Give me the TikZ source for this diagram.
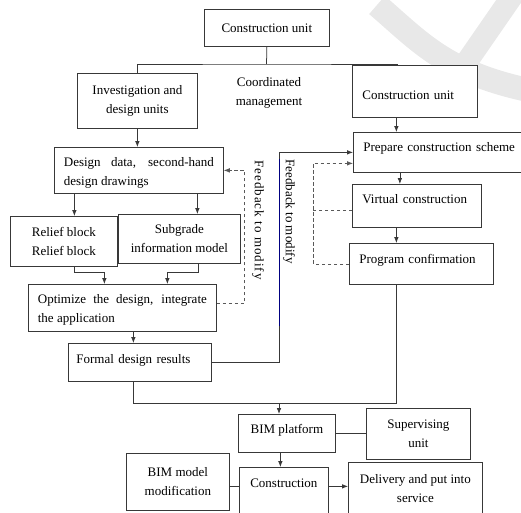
\documentclass[tikz,border=0pt]{standalone}
\usepackage{fontspec}
\setmainfont{Liberation Serif}
\usetikzlibrary{arrows.meta}
\begin{document}
\begin{tikzpicture}[x=1pt,y=-1pt,font=\fontsize{13}{19}\selectfont,
	line width=0.75pt,draw=black!78,>={Latex[length=6pt,width=4.6pt]},
	box/.style={draw=black!78,fill=white,inner sep=0pt,anchor=north west,align=center},
	tbox/.style={box,align=left,inner xsep=10pt},
	jbox/.style={box,align=justify,inner xsep=9.5pt},
	fb/.style={dash pattern=on 3.5pt off 2.5pt,draw=black!65},
	wmark/.style={line width=24pt,draw=black!9,line cap=butt}]
	\useasboundingbox (0,0) rectangle (521,512);
	\draw[wmark] (377,5) .. controls (420,42) and (445,72) .. (528,90);
	\draw[wmark,line width=22pt] (513,-5) -- (466,63);
	\node[box,minimum width=125,minimum height=37] (top) at (204,9) {Construction unit};
	\node[box,minimum width=120,minimum height=55] (inv) at (77,73) {Investigation and\\design units};
	\node[align=center] (coord) at (269,93) {Coordinated\\management};
	\node[tbox,text width=105,text height=34,text depth=18] (cu2) at (352,65) {Construction unit};
	\node[tbox,text width=155,text height=19,text depth=21] (prep) at (353,132) {Prepare construction scheme};
	\node[jbox,text width=150,minimum height=46] (dd) at (54,147) {\rule{0pt}{14pt}Design data, second-hand design drawings};
	\node[box,minimum width=107,minimum height=50] (relief) at (10,216) {Relief block\\Relief block};
	\node[box,minimum width=122,minimum height=49] (sub) at (118,214) {Subgrade\\information model};
	\node[jbox,text width=169,minimum height=47] (opt) at (28,284) {\rule{0pt}{14pt}Optimize the design, integrate the application};
	\node[tbox,inner xsep=8pt,text width=127,text height=20,text depth=18] (formal) at (68,343) {Formal design results};
	\node[tbox,text width=109,text height=19,text depth=24] (virt) at (352,184) {Virtual construction};
	\node[tbox,text width=124,text height=20,text depth=21] (prog) at (349,243) {Program confirmation};
	\node[rotate=-90] (fb1) at (258,220) {\addfontfeature{LetterSpace=8}Feedback to modify};
	\node[rotate=-90] (fb2) at (289,211.5) {Feedback to modify};
	\node[box,minimum width=97,text height=19,text depth=19] (bim) at (238,414) {BIM platform};
	\node[box,minimum width=104,minimum height=51] (sup) at (366,408) {Supervising\\unit};
	\node[box,minimum width=103,minimum height=57] (bimmod) at (126,453) {BIM model\\modification};
	\node[box,minimum width=89,text height=20,text depth=28] (cons) at (239,467) {Construction};
	\node[box,minimum width=134,minimum height=53] (deliv) at (348,462) {Delivery and put into\\service};
	\coordinate (split) at (266.5,64);
	\coordinate (join) at (279,403);
	\draw (top.south) -- (split);
	\draw (inv.north) |- (split) -| ([xshift=-17.5]cu2.north);
	\draw[->] (inv.south) -- (inv.south |- dd.north);
	\draw[->] ([xshift=-18.5]cu2.south) -- ([xshift=-18.5]cu2.south |- prep.north);
	\draw[->] ([xshift=10.5]relief.north |- dd.south) -- ([xshift=10.5]relief.north);
	\draw[->] ([xshift=18]sub.north |- dd.south) -- ([xshift=18]sub.north);
	\draw[->] ([xshift=10.5]relief.south) -- ++(0,6) -| ([xshift=-18]opt.north);
	\draw[->] ([xshift=19]sub.south) -- ++(0,9) -| ([xshift=45]opt.north);
	\draw[->] ([xshift=11]opt.south) -- ([xshift=11]opt.south |- formal.north);
	\draw[->] (formal.east) -| ([xshift=-74]prep.west) -- (prep.west);
	\draw[draw=blue!50!black] ([xshift=-74,yshift=-7]prep.west) -- ([xshift=-74,yshift=-174]prep.west);
	\draw[fb,->] ([yshift=4.5]opt.east) -| ([xshift=21]dd.east) -- (dd.east);
	\draw[fb,->] (prog.west) -| ([xshift=-40,yshift=-11]prep.west) -- ([yshift=-11]prep.west);
	\draw[fb] ([yshift=-4.5]virt.west) -- ++(-39,0);
	\draw[->] ([xshift=-41]prep.south) -- ([xshift=-41]prep.south |- virt.north);
	\draw[->] ([xshift=-20.5]virt.south) -- ([xshift=-20.5]virt.south |- prog.north);
	\draw ([xshift=-25]prog.south) |- ([xshift=-6.5]formal.south |- join) -- ([xshift=-6.5]formal.south);
	\draw[->] (join) -- (join |- bim.north);
	\draw (bim.east) -- (bim.east -| sup.west);
	\draw[->] ([xshift=-6.5]bim.south) -- ([xshift=-6.5]bim.south |- cons.north);
	\draw ([yshift=-4.5]bimmod.east) -- ([yshift=-4.5]bimmod.east -| cons.west);
	\draw[->] ([yshift=-4.5]bimmod.east -| cons.east) -- ([yshift=-4.5]bimmod.east -| deliv.west);
\end{tikzpicture}
\end{document}
